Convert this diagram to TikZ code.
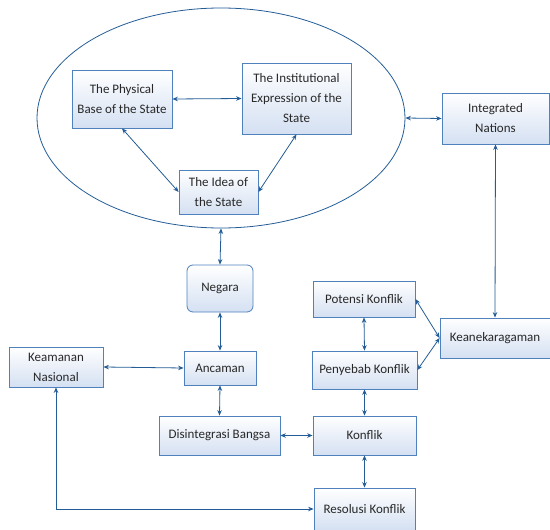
\documentclass[tikz,border=0pt]{standalone}
\usepackage{fontspec}
\setmainfont{Carlito}
\usetikzlibrary{positioning}
\usetikzlibrary{arrows.meta}
\usetikzlibrary{shapes.geometric}
\definecolor{boxline}{RGB}{79,129,189}
\definecolor{boxfill}{RGB}{212,224,242}
\definecolor{arrowblue}{RGB}{35,92,150}
\definecolor{boxtext}{RGB}{40,40,40}

\begin{document}
\begin{tikzpicture}[
			x=1pt, y=-1pt,
			box/.style={draw=boxline, line width=0.8pt, top color=white, bottom color=boxfill, align=center, text=boxtext, font=\fontsize{13}{20}\selectfont, inner sep=2pt},
			roundbox/.style={box, rounded corners=6pt},
			state/.style={draw=arrowblue, line width=0.8pt, ellipse, minimum width=368pt, minimum height=220pt, inner sep=0pt},
			link/.style={draw=arrowblue, line width=0.8pt, {Stealth[length=5.5pt,width=4.5pt]}-{Stealth[length=5.5pt,width=4.5pt]}}
			]
			
			\useasboundingbox (0,0) rectangle (550,530);
			
			% The state ellipse
			\node[state] (state) at (221,118) {};
			
			% Boxes inside the ellipse
			\node[box, minimum width=100pt, minimum height=58pt] (physical) at (122,99) {The Physical\\Base of the State};
			\node[box, minimum width=109pt, minimum height=71pt] (institution) at (296.5,98.5) {The Institutional\\Expression of the\\State};
			\node[box, minimum width=79pt, minimum height=44pt] (idea) at (218.5,192) {The Idea of\\the State};
			
			% Right column
			\node[box, minimum width=107pt, minimum height=51pt] (integrated) at (495.5,118.5) {Integrated\\Nations};
			\node[box, minimum width=110pt, minimum height=40pt] (diversity) at (495,338) {Keanekaragaman};
			
			% Middle column
			\node[roundbox, minimum width=66pt, minimum height=47pt] (negara) at (220,288.5) {Negara};
			\node[box, minimum width=72pt, minimum height=34pt] (threat) at (220,368) {Ancaman};
			\node[box, minimum width=121pt, minimum height=39pt] (disintegration) at (219.5,435.5) {Disintegrasi Bangsa};
			
			% Left box
			\node[box, minimum width=94pt, minimum height=40pt] (security) at (56,367) {Keamanan\\Nasional};
			
			% Conflict column
			\node[box, minimum width=102pt, minimum height=36pt] (potential) at (364,299) {Potensi Konflik};
			\node[box, minimum width=105pt, minimum height=38pt] (cause) at (364.5,370) {Penyebab Konflik};
			\node[box, minimum width=103pt, minimum height=39pt] (conflict) at (364.5,435.5) {Konflik};
			\node[box, minimum width=101pt, minimum height=42pt] (resolution) at (364.5,509) {Resolusi Konflik};
			
			% Edges inside the ellipse
			\draw[link] (physical.east) -- (institution.west);
			\draw[link] (physical.south) -- (idea.west);
			\draw[link] (institution.south) -- (idea.east);
			
			% Edges from the ellipse
			\draw[link] (state.east) -- (integrated.west);
			\draw[link] (state.south) -- (negara.north);
			\draw[link] (integrated.south) -- (diversity.north);
			\draw[link] (diversity.west) -- (potential.east);
			\draw[link] (diversity.west) -- (cause.east);
			
			% Middle edges
			\draw[link] (negara.south) -- (threat.north);
			\draw[link] (threat.south) -- (disintegration.north);
			\draw[link] (security.east) -- (threat.west);
			\draw[link] (disintegration.east) -- (conflict.west);
			
			% Conflict chain
			\draw[link] (potential.south) -- (cause.north);
			\draw[link] (cause.south) -- (conflict.north);
			\draw[link] (conflict.south) -- (resolution.north);
			\draw[link] (security.south) |- (resolution.west);
			
		\end{tikzpicture}
\end{document}
